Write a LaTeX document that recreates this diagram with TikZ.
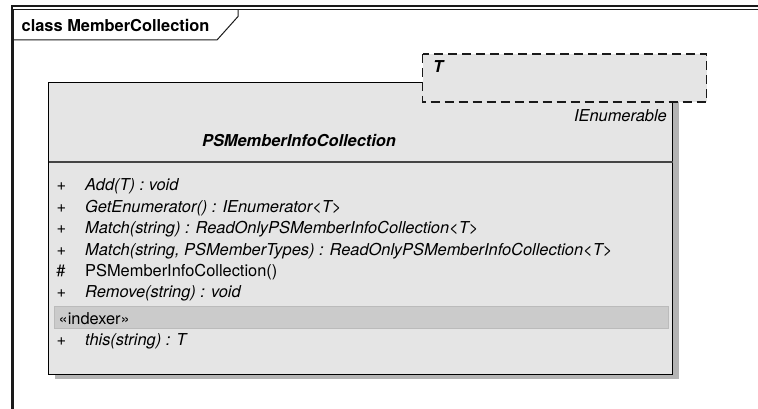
\documentclass[tikz,border=0pt]{standalone}
\usepackage{fontspec}
\setmainfont{TeX Gyre Heros}
\newcommand\umlsize{\fontsize{16.4}{19}\selectfont}
\definecolor{boxfill}{HTML}{E5E5E5}
\definecolor{bandfill}{HTML}{CBCBCB}
\definecolor{bandline}{HTML}{BBBBBB}
\definecolor{shadowgray}{HTML}{B4B4B4}
\definecolor{divider}{HTML}{444444}
\definecolor{framedark}{HTML}{1A1A1A}
\tikzset{
  txt/.style={inner sep=0pt, font=\umlsize},
  opname/.style={txt, anchor=base west, font=\umlsize\itshape},
  opplain/.style={txt, anchor=base west},
  visib/.style={txt, anchor=base},
  framethick/.style={draw=framedark, line width=2.2pt},
  framethin/.style={draw=framedark, line width=1pt},
}
\begin{document}
\begin{tikzpicture}[x=1pt,y=-1pt]
\useasboundingbox (0,0) rectangle (758,409);

% diagram frame (double line) and its title tab
\draw[framethick] (11.7,420) -- (11.7,5.7) -- (770,5.7);
\draw[framethin] (13.8,420) -- (13.8,9.2) -- (770,9.2);
\draw[framethin] (13.8,40) -- (217,40) -- (238,16.5) -- (238,9.2);
\node[txt, anchor=base west, font=\umlsize\bfseries] (title) at (21.5,31.5) {class MemberCollection};

% class box: shadow, body, compartment divider
\fill[shadowgray] (54.5,88) rectangle (678.5,379.3);
\filldraw[fill=boxfill, draw=black, line width=1.5pt] (48.5,82.5) rectangle (672.5,374.3);
\draw[divider, line width=2pt] (48.5,161.7) -- (672.5,161.7);

% stereotype band
\filldraw[fill=bandfill, draw=bandline, line width=1pt] (54,306.7) rectangle (668.3,328.3);

% template parameter box
\filldraw[fill=boxfill, draw=framedark, line width=1.4pt, dash pattern=on 9pt off 5pt]
  (422.7,54) rectangle (706.7,102);
\node[txt, anchor=base west, font=\umlsize\bfseries\itshape] (tparam) at (433,72.5) {T};

% header texts
\node[txt, anchor=base east, font=\umlsize\itshape] (iface) at (667,121.7) {IEnumerable};
\node[txt, anchor=base, font=\umlsize\bfseries\itshape] (cname) at (299,146.7) {PSMemberInfoCollection};

% operations
\node[visib] (v1) at (61.5,190.5) {+};
\node[opname] (op1) at (85,190.5) {Add(T) : void};
\node[visib] (v2) at (61.5,212) {+};
\node[opname] (op2) at (85,212) {GetEnumerator() : IEnumerator<T>};
\node[visib] (v3) at (61.5,233.5) {+};
\node[opname] (op3) at (85,233.5) {Match(string) : ReadOnlyPSMemberInfoCollection<T>};
\node[visib] (v4) at (61.5,255) {+};
\node[opname] (op4) at (85,255) {Match(string, PSMemberTypes) : ReadOnlyPSMemberInfoCollection<T>};
\node[visib] (v5) at (61,276.5) {\#};
\node[opplain] (op5) at (85,276.5) {PSMemberInfoCollection()};
\node[visib] (v6) at (61.5,297) {+};
\node[opname] (op6) at (85,297) {Remove(string) : void};

% indexer section
\node[opplain] (stereo) at (58.5,324) {«indexer»};
\node[visib] (v7) at (61.5,345.3) {+};
\node[opname] (op7) at (85,345.3) {this(string) : T};
\end{tikzpicture}
\end{document}
